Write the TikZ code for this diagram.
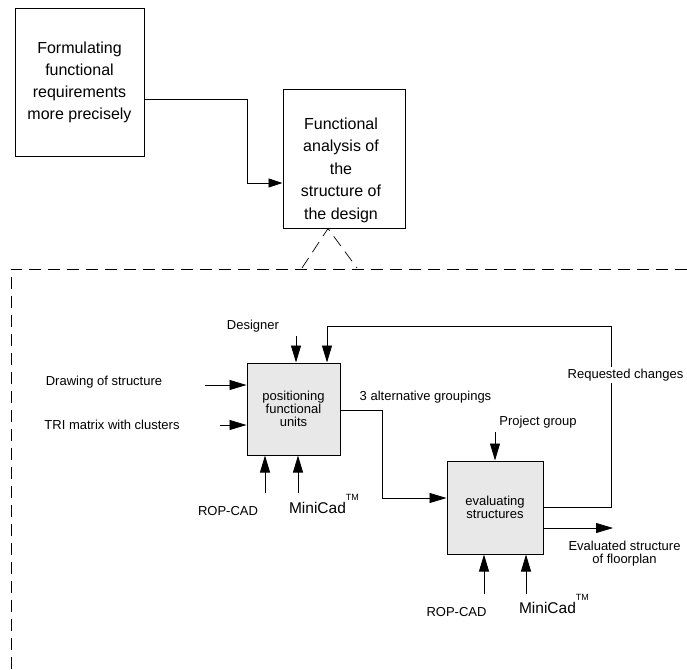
\documentclass[tikz,border=0pt]{standalone}
\usepackage{fontspec}
\setmainfont{Liberation Sans}
\usetikzlibrary{arrows.meta,positioning}

\begin{document}
\begin{tikzpicture}[x=1pt, y=-1pt,
  every node/.style={font=\fontsize{13}{13}\selectfont},
  bigbox/.style={draw, line width=1pt, align=center, font=\fontsize{16}{22}\selectfont},
  actbox/.style={draw, line width=1pt, align=center, fill=gray!18, inner sep=0pt},
  lbl/.style={inner sep=0pt, align=center},
  arr/.style={line width=0.8pt, -{Triangle[length=17pt,width=10pt]}},
  frame/.style={dashed, line width=0.7pt, dash pattern=on 12pt off 7pt},
]
\useasboundingbox (0,0) rectangle (687,669);

\node[bigbox, minimum width=129pt, minimum height=147pt] (formul) at (79.5,82.5)
  {Formulating\\functional\\requirements\\more precisely};
\node[bigbox, minimum width=122pt, minimum height=139pt] (funcan) at (344,158.5) {};
\node[lbl, font=\fontsize{16}{22.5}\selectfont] (funcantxt) at (341,170)
  {Functional\\analysis of\\the\\structure of\\the design};

\draw[line width=0.8pt, -{Triangle[length=14pt,width=9pt]}]
  ([yshift=-16.5pt]formul.east) -- ++(102.5,0) |- ([yshift=-24.5pt]funcan.west);

\coordinate (triL) at (302,268);
\coordinate (triR) at (357,268);
\draw[frame] (triL) -- ([xshift=-16pt]funcan.south) -- (triR);
\coordinate (frameTR) at (687,269);
\coordinate (frameTL) at (11,269);
\coordinate (frameBL) at (11,669);
\draw[frame] (frameTR) -- (frameTL) -- (frameBL);

\node[actbox, minimum width=93pt, minimum height=92pt] (posit) at (293.5,409)
  {positioning\\functional\\units};
\node[actbox, minimum width=96pt, minimum height=93pt] (evalu) at (495,507.5)
  {evaluating\\structures};

\node[lbl] (drawlbl) at (104,382) {Drawing of structure};
\node[lbl] (trilbl) at (112,425) {TRI matrix with clusters};
\node[lbl] (deslbl) at (253,326) {Designer};
\coordinate (drawin) at (205,385);
\coordinate (triin) at (220,425);
\coordinate (desin) at (296,336);
\draw[arr] (drawin) -- (drawin -| posit.west);
\draw[arr] (triin) -- (triin -| posit.west);
\draw[arr] (desin) -- (desin |- posit.north);

\coordinate (ropin) at (265,493);
\coordinate (minin) at (298,493);
\draw[arr] (ropin) -- (ropin |- posit.south);
\draw[arr] (minin) -- (minin |- posit.south);
\node[lbl] (roplbl) at (228,511) {ROP-CAD};
\node[lbl, font=\fontsize{15.5}{15.5}\selectfont] (minlbl) at (324,504)
  {MiniCad\raisebox{1.6ex}{\fontsize{9}{9}\selectfont TM}};

\draw[arr] ([yshift=-1pt]posit.east) -- ++(41.5,0) |- ([yshift=9.5pt]evalu.west);
\node[lbl] (altlbl) at (425.5,397) {3 alternative groupings};

\node[lbl] (projlbl) at (538,422) {Project group};
\coordinate (projin) at (495,432);
\draw[arr] (projin) -- (projin |- evalu.north);

\draw[arr] (evalu.east) -| (611,326) -| ([xshift=33.5pt]posit.north);
\node[lbl, fill=white, inner xsep=1pt, inner ysep=2pt] (reqlbl) at (625.5,375) {Requested changes};

\coordinate (evalout) at (613,528);
\draw[arr] ([yshift=-20.5pt]evalu.east) -- (evalout);
\node[lbl] (outlbl) at (624.5,554) {Evaluated structure\\of floorplan};

\coordinate (rop2in) at (484,594);
\coordinate (min2in) at (526,594);
\draw[arr] (rop2in) -- (rop2in |- evalu.south);
\draw[arr] (min2in) -- (min2in |- evalu.south);
\node[lbl] (rop2lbl) at (456.5,612) {ROP-CAD};
\node[lbl, font=\fontsize{15.5}{15.5}\selectfont] (min2lbl) at (554,604)
  {MiniCad\raisebox{1.6ex}{\fontsize{9}{9}\selectfont TM}};

\end{tikzpicture}
\end{document}
